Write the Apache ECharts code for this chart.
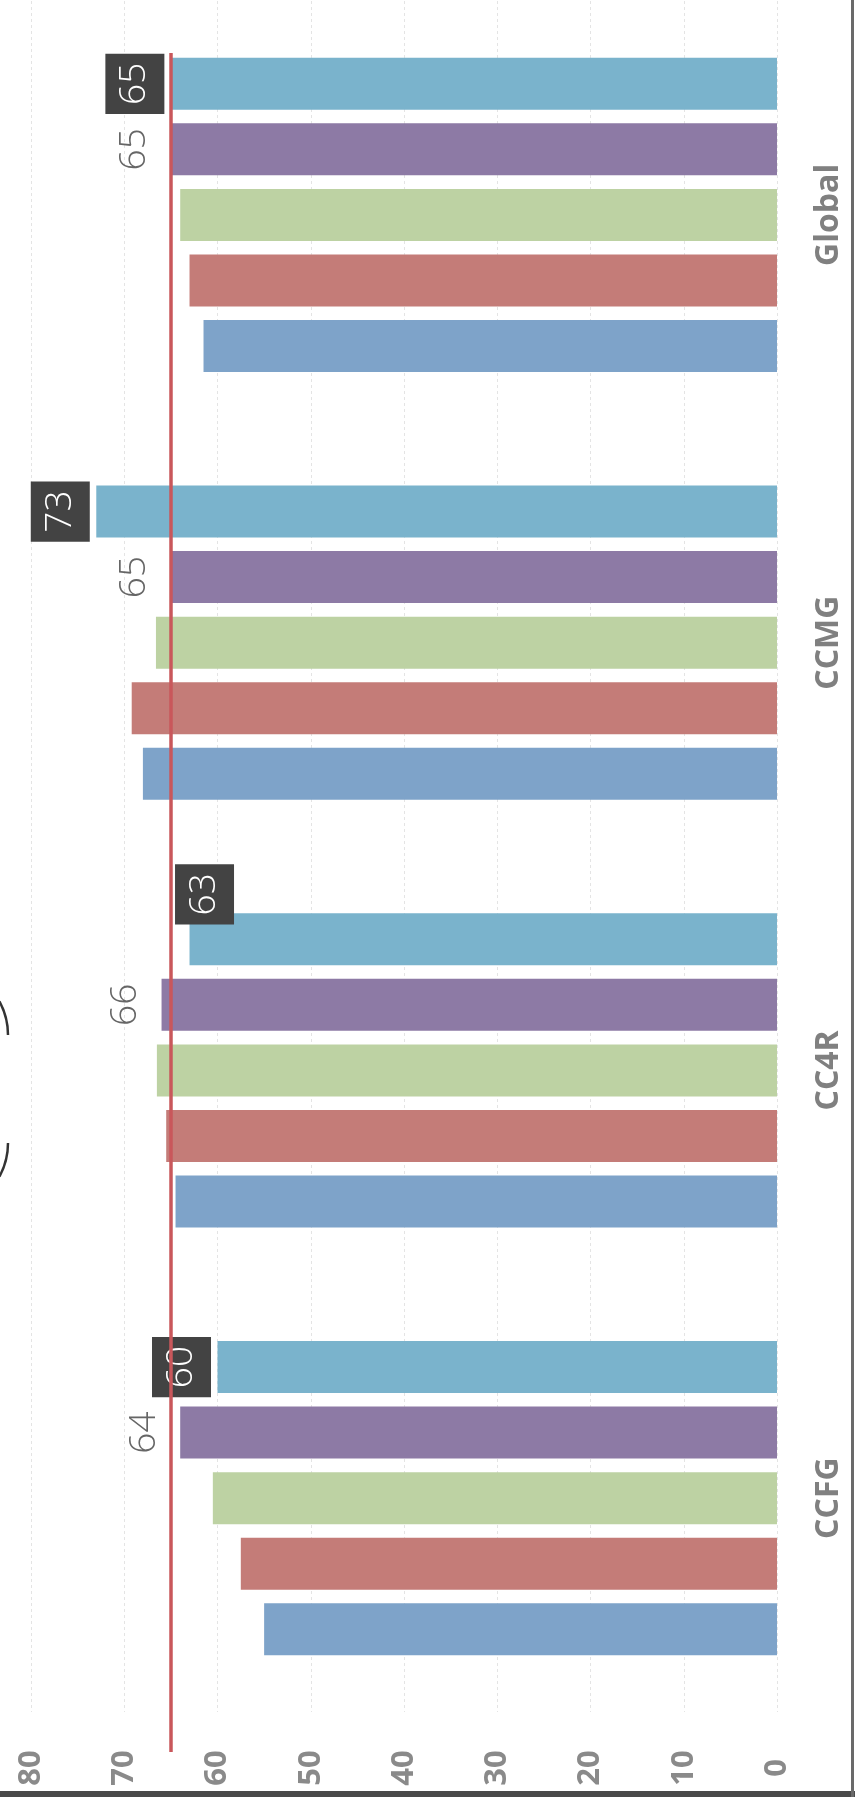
<!DOCTYPE html>
<html>
<head>
<meta charset="utf-8">
<script src="https://cdn.jsdelivr.net/npm/echarts@6/dist/echarts.min.js"></script>
<style>
  html, body { margin: 0; padding: 0; background: #ffffff; }
  #chart { width: 855px; height: 1802px; }
</style>
</head>
<body>
<div id="chart"></div>
<script>
// ---- data ----
const categories = ['CCFG', 'CC4R', 'CCMG', 'Global'];
const blueValues   = [55, 64.5, 68, 61.5];
const redValues    = [57.5, 65.5, 69.2, 63];
const greenValues  = [60.5, 66.5, 66.6, 64];
const purpleValues = [64, 66, 65, 65];
const cyanValues   = [60, 63, 73, 65];
const referenceValue = 65;
const axisMin = 0, axisMax = 80, axisStep = 10;

// ---- chart ----
const chart = echarts.init(document.getElementById('chart'), null, { renderer: 'canvas' });
const labelFont = "'Open Sans', 'DejaVu Sans', sans-serif";

function barSeries(name, values, color, extra) {
  return Object.assign({
    name: name,
    type: 'bar',
    data: values,
    barWidth: 52,
    barGap: '26%',
    itemStyle: { color: color },
    label: { show: false },
    silent: true
  }, extra || {});
}

const cyanData = cyanValues.map(function (v, i) {
  if (categories[i] === 'CC4R') {
    return { value: v, label: { offset: [45, 51] } };
  }
  return v;
});

const option = {
  backgroundColor: '#ffffff',
  animation: false,
  grid: { left: 31, right: 78, top: 1, bottom: 90, containLabel: false, outerBoundsMode: 'none' },
  xAxis: {
    type: 'value',
    inverse: true,
    position: 'bottom',
    min: axisMin, max: axisMax, interval: axisStep,
    axisLine: { show: false },
    axisTick: { show: false },
    splitLine: { show: true, lineStyle: { color: '#e4e4e4', type: [3, 3], width: 1 } },
    axisLabel: {
      rotate: 90,
      align: 'center',
      verticalAlign: 'middle',
      margin: 56,
      fontSize: 31,
      fontWeight: 'bold',
      color: '#8a8a8a',
      fontFamily: labelFont
    }
  },
  yAxis: {
    type: 'category',
    position: 'right',
    data: categories,
    axisLine: { show: false },
    axisTick: { show: false },
    splitLine: { show: false },
    axisLabel: {
      rotate: 90,
      align: 'center',
      verticalAlign: 'middle',
      margin: 52,
      fontSize: 32,
      fontWeight: 'bold',
      color: '#808080',
      fontFamily: labelFont
    }
  },
  series: [
    barSeries('Series 5', cyanData, '#7ab3cc', {
      label: {
        show: true,
        position: 'left',
        distance: 36,
        rotate: 90,
        align: 'center',
        verticalAlign: 'middle',
        fontSize: 37,
        fontWeight: 300,
        lineHeight: 40,
        fontFamily: labelFont,
        color: '#ffffff',
        backgroundColor: '#434343',
        padding: [10, 9, 9, 9]
      },
      markLine: {
        silent: true,
        symbol: ['none', 'none'],
        label: { show: false },
        lineStyle: { color: '#c9575b', width: 3.5, type: 'solid' },
        emphasis: { disabled: true },
        data: [[{ xAxis: referenceValue, y: 53 }, { xAxis: referenceValue, y: 1752 }]]
      }
    }),
    barSeries('Series 4', purpleValues, '#8d7aa5', {
      label: {
        show: true,
        position: 'left',
        distance: 36,
        rotate: 90,
        align: 'center',
        verticalAlign: 'middle',
        fontSize: 37,
        fontWeight: 300,
        lineHeight: 40,
        fontFamily: labelFont,
        color: '#666666'
      }
    }),
    barSeries('Series 3', greenValues, '#bdd2a3'),
    barSeries('Series 2', redValues, '#c47c78'),
    barSeries('Series 1', blueValues, '#7ea3c9')
  ],
  graphic: [
    { type: 'rect', left: 0, top: 1791, shape: { width: 855, height: 6 }, style: { fill: '#4a4a4a' }, silent: true },
    { type: 'rect', left: 851, top: 0, shape: { width: 3, height: 1797 }, style: { fill: '#6a6a6a' }, silent: true },
    // tips of a cut-off title's parentheses at the left edge
    { type: 'arc', silent: true,
      shape: { cx: -62, cy: 1035, r: 70, startAngle: -0.5, endAngle: 0, clockwise: true },
      style: { stroke: '#333333', lineWidth: 2.5, fill: null } },
    { type: 'arc', silent: true,
      shape: { cx: -62, cy: 1143, r: 70, startAngle: 0, endAngle: 0.5, clockwise: true },
      style: { stroke: '#333333', lineWidth: 2.5, fill: null } }
  ]
};
chart.setOption(option);
</script>
</body>
</html>
